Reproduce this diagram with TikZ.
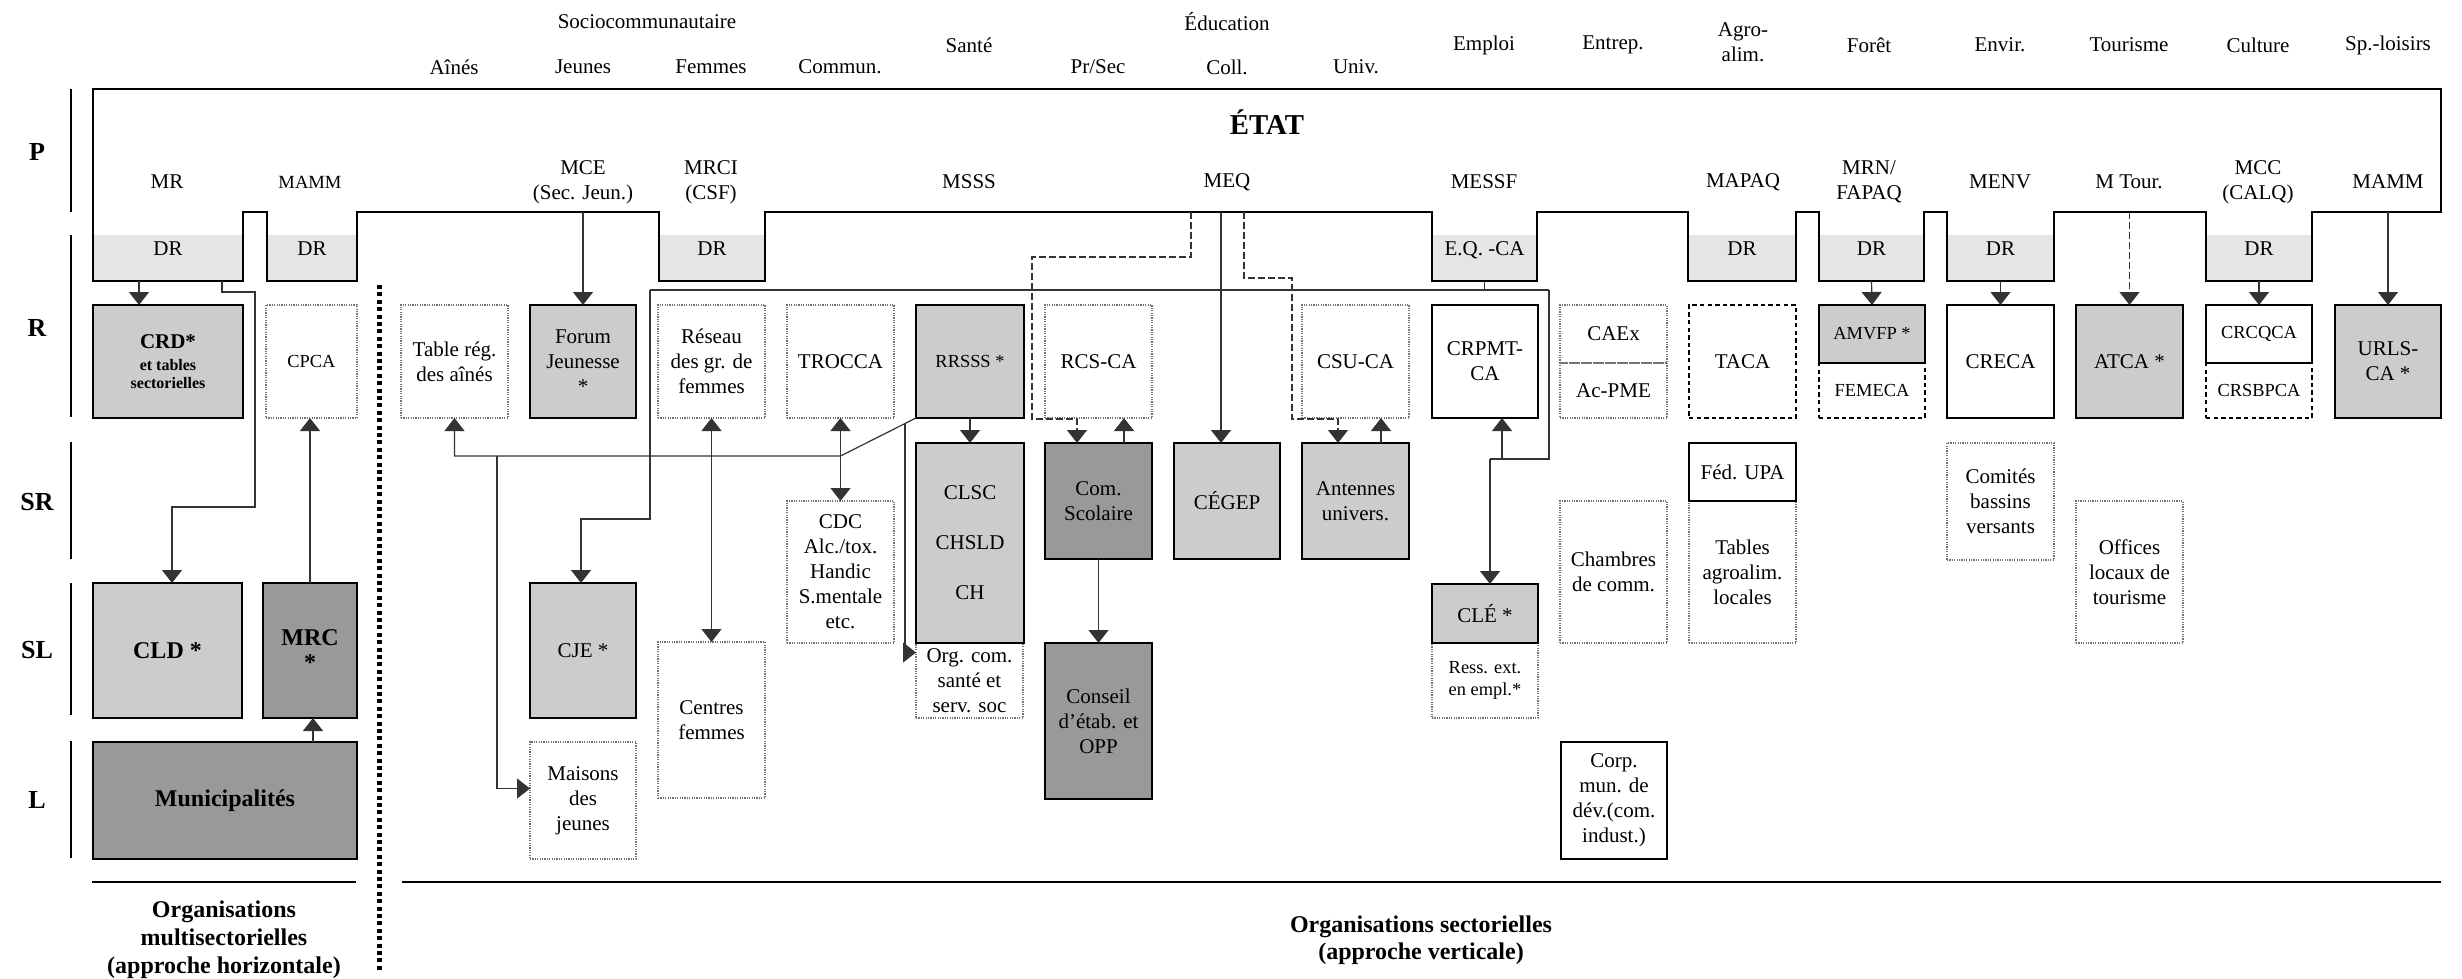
\documentclass[tikz,border=0pt]{standalone}
\usepackage{fontspec}
\setmainfont{Liberation Serif}
\usetikzlibrary{arrows.meta}

\tikzset{
  every node/.style={font=\fontsize{10.5}{12.5}\selectfont, align=center, inner sep=0pt, outer sep=0pt},
  sz/.style 2 args={minimum width=#1*0.5pt, minimum height=#2*0.5pt},
  wd/.style={minimum width=#1*0.5pt},
  solidbox/.style={draw=black, line width=1pt},
  dotbox/.style={draw=black!55, line width=0.9pt, dash pattern=on 0.6pt off 0.6pt},
  dashbox/.style={draw=black, line width=1.1pt, dash pattern=on 2.2pt off 1.6pt},
  lgrey/.style={fill=black!20},
  dgrey/.style={fill=black!40},
  drbox/.style={fill=black!10, anchor=north, minimum height=23pt, text height=7pt, text depth=10pt},
  small/.style={font=\fontsize{9.2}{11}\selectfont},
  big/.style={font=\fontsize{12}{12.5}\selectfont\bfseries},
  lvl/.style={font=\fontsize{13}{15}\selectfont\bfseries},
  conn/.style={draw=black!80, line width=0.6pt},
  arr/.style={conn, -{Triangle[width=10pt,length=6.5pt]}},
  darr/.style={conn, {Triangle[width=10pt,length=6.5pt]}-{Triangle[width=10pt,length=6.5pt]}},
  dasharr/.style={arr, dash pattern=on 3.5pt off 1.5pt}
}

\begin{document}
\begin{tikzpicture}[x=0.5pt, y=-0.5pt]
\useasboundingbox (0,0) rectangle (2462,979);

% secteurs
\node (h-socio) at (647,22) {Sociocommunautaire};
\node (h-educ) at (1227,22) {Éducation};
\node (h-aines) at (454,67) {Aînés};
\node (h-jeunes) at (583,67) {Jeunes};
\node (h-femmes) at (711,67) {Femmes};
\node (h-commun) at (840,67) {Commun.};
\node (h-sante) at (969,45) {Santé};
\node (h-prsec) at (1098,67) {Pr/Sec};
\node (h-coll) at (1227,67) {Coll.};
\node (h-univ) at (1356,67) {Univ.};
\node (h-emploi) at (1484,45) {Emploi};
\node (h-entrep) at (1613,45) {Entrep.};
\node (h-agro) at (1743,42) {Agro-\\alim.};
\node (h-foret) at (1869,45) {Forêt};
\node (h-envir) at (2000,45) {Envir.};
\node (h-tour) at (2129,45) {Tourisme};
\node (h-cult) at (2258,45) {Culture};
\node (h-sport) at (2388,45) {Sp.-loisirs};

% niveaux
\node[lvl] (lp) at (37,152) {P};
\node[lvl] (lr) at (37,328) {R};
\node[lvl] (lsr) at (37,502) {SR};
\node[lvl] (lsl) at (37,650) {SL};
\node[lvl] (ll) at (37,800) {L};
\draw[line width=1pt] (71,89) -- (71,212);
\draw[line width=1pt] (71,235) -- (71,417);
\draw[line width=1pt] (71,442) -- (71,559);
\draw[line width=1pt] (71,583) -- (71,715);
\draw[line width=1pt] (71,741) -- (71,858);

% directions regionales
\node[drbox, wd=150] (mrdr) at (168,235) {DR};
\node[drbox, wd=90] (mammdr) at (312,235) {DR};
\node[drbox, wd=106] (mrcidr) at (712,235) {DR};
\node[drbox, wd=105] (eqca) at (1484.5,235) {E.Q. -CA};
\node[drbox, wd=108] (mapaqdr) at (1742,235) {DR};
\node[drbox, wd=105] (mrndr) at (1871.5,235) {DR};
\node[drbox, wd=107] (menvdr) at (2000.5,235) {DR};
\node[drbox, wd=106] (mccdr) at (2259,235) {DR};

% l'Etat
\draw[line width=1.1pt] (93,89) -- (2441,89) -- (2441,212) -- (2312,212) -- (2312,281) -- (2206,281) -- (2206,212) -- (2054,212) -- (2054,281) -- (1947,281) -- (1947,212) -- (1924,212) -- (1924,281) -- (1819,281) -- (1819,212) -- (1796,212) -- (1796,281) -- (1688,281) -- (1688,212) -- (1537,212) -- (1537,281) -- (1432,281) -- (1432,212) -- (765,212) -- (765,281) -- (659,281) -- (659,212) -- (357,212) -- (357,281) -- (267,281) -- (267,212) -- (243,212) -- (243,281) -- (93,281) -- cycle;
\coordinate (base) at (0,212);
\node[font=\fontsize{14.4}{16}\selectfont\bfseries] (etat) at (1267,122) {ÉTAT};

% ministeres
\node (mr) at (167,182) {MR};
\node[font=\fontsize{9.3}{11}\selectfont] (mammg) at (310,182) {MAMM};
\node (mce) at (583,182) {MCE\\(Sec. Jeun.)};
\node (mrci) at (711,182) {MRCI\\(CSF)};
\node (msss) at (969,182) {MSSS};
\node (meq) at (1227,182) {MEQ};
\node (messf) at (1484,182) {MESSF};
\node (mapaq) at (1743,182) {MAPAQ};
\node (mrn) at (1869,182) {MRN/\\FAPAQ};
\node (menv) at (2000,182) {MENV};
\node (mtour) at (2129,182) {M Tour.};
\node (mcc) at (2258,182) {MCC\\(CALQ)};
\node (mammd) at (2388,182) {MAMM};

% niveau R
\node[dotbox, small, sz={91}{113}] (cpca) at (311.5,361.5) {CPCA};
\node[dotbox, sz={107}{113}] (tra) at (454.5,361.5) {Table rég.\\des aînés};
\node[dotbox, sz={107}{113}] (rgf) at (711.5,361.5) {Réseau\\des gr. de\\femmes};
\node[dotbox, sz={107}{113}] (trocca) at (840.5,361.5) {TROCCA};
\node[dotbox, sz={107}{113}] (rcs) at (1098.5,361.5) {RCS-CA};
\node[dotbox, sz={107}{113}] (csu) at (1355.5,361.5) {CSU-CA};
\node[dotbox, sz={107}{58}] (caex) at (1613.5,334) {CAEx};
\node[dotbox, sz={107}{55}] (acpme) at (1613.5,390.5) {Ac-PME};
\node[dashbox, sz={107}{113}] (taca) at (1742.5,361.5) {TACA};
\node[dashbox, small, sz={106}{55}] (femeca) at (1872,390.5) {FEMECA};
\node[dashbox, small, sz={106}{55}] (crsbpca) at (2259,390.5) {CRSBPCA};
\node[solidbox, lgrey, sz={150}{113}, font=\fontsize{8}{9}\selectfont\bfseries] (crd) at (168,361.5) {{\fontsize{10.5}{12}\selectfont CRD*}\\[2pt]et tables\\sectorielles};
\node[solidbox, lgrey, sz={106}{113}] (fj) at (583,361.5) {Forum\\Jeunesse\\*};
\node[solidbox, lgrey, small, sz={108}{113}] (rrsss) at (970,361.5) {RRSSS *};
\node[solidbox, sz={106}{113}] (crpmt) at (1485,361.5) {CRPMT-\\CA};
\node[solidbox, lgrey, small, sz={106}{58}] (amvfp) at (1872,334) {AMVFP *};
\node[solidbox, sz={107}{113}] (creca) at (2000.5,361.5) {CRECA};
\node[solidbox, lgrey, sz={107}{113}] (atca) at (2129.5,361.5) {ATCA *};
\node[solidbox, small, sz={106}{58}] (crcqca) at (2259,334) {CRCQCA};
\node[solidbox, lgrey, sz={106}{113}] (urls) at (2388,361.5) {URLS-\\CA *};

% niveaux SR, SL et L
\node[dotbox, sz={107}{142}] (cdc) at (840.5,572) {CDC\\Alc./tox.\\Handic\\S.mentale\\etc.};
\node[dotbox, sz={107}{75}] (orgcom) at (969.5,680.5) {Org. com.\\santé et\\serv. soc};
\node[dotbox, small, sz={106}{75}] (ressext) at (1485,680.5) {Ress. ext.\\en empl.*};
\node[dotbox, sz={107}{142}] (chambres) at (1613.5,572) {Chambres\\de comm.};
\node[dotbox, sz={107}{142}] (tables) at (1742.5,572) {Tables\\agroalim.\\locales};
\node[dotbox, sz={107}{117}] (comites) at (2000.5,501.5) {Comités\\bassins\\versants};
\node[dotbox, sz={107}{142}] (offices) at (2129.5,572) {Offices\\locaux de\\tourisme};
\node[dotbox, sz={107}{156}] (centres) at (711.5,720) {Centres\\femmes};
\node[dotbox, sz={106}{117}] (maisons) at (583,800.5) {Maisons\\des\\jeunes};
\node[solidbox, lgrey, sz={108}{200}] (clsc) at (970,543) {CLSC\\[12.5pt]CHSLD\\[12.5pt]CH};
\node[solidbox, dgrey, sz={107}{116}] (comsco) at (1098.5,501) {Com.\\Scolaire};
\node[solidbox, dgrey, sz={107}{156}] (conseil) at (1098.5,721) {Conseil\\d’étab. et\\OPP};
\node[solidbox, lgrey, sz={106}{116}] (cegep) at (1227,501) {CÉGEP};
\node[solidbox, lgrey, sz={107}{116}] (antennes) at (1355.5,501) {Antennes\\univers.};
\node[solidbox, lgrey, sz={106}{59}] (cle) at (1485,613.5) {CLÉ *};
\node[solidbox, sz={106}{117}] (corp) at (1614,800.5) {Corp.\\mun. de\\dév.(com.\\indust.)};
\node[solidbox, sz={107}{58}] (fedupa) at (1742.5,472) {Féd. UPA};
\node[solidbox, lgrey, sz={106}{135}] (cje) at (583,650.5) {CJE *};
\node[solidbox, lgrey, big, sz={149}{135}] (cld) at (167.5,650.5) {CLD *};
\node[solidbox, dgrey, big, sz={94}{135}] (mrc) at (310,650.5) {MRC\\*};
\node[solidbox, dgrey, big, sz={264}{117}] (muni) at (225,800.5) {Municipalités};

% liens
\draw[arr] (139,0 |- mrdr.south) -- (139,0 |- crd.north);
\draw[arr] (222,0 |- mrdr.south) |- (255,292) |- (172,507) -- (172,0 |- cld.north);
\draw[arr] (310,0 |- mrc.north) -- (310,0 |- cpca.south);
\draw[arr] (313,0 |- muni.north) -- (313,0 |- mrc.south);
\draw[arr] (fj.north |- base) -- (fj.north);
\coordinate (jl) at (650,290);
\coordinate (jr) at (1549,290);
\coordinate (jc) at (1490,459);
\draw[conn] (jl) -- (jr);
\draw[conn] (eqca.south) -- (eqca.south |- jl);
\draw[arr] (jl) |- (581,519) -- (581,0 |- cje.north);
\draw[conn] (jr) |- (jc);
\draw[arr] (jc) -- (jc |- cle.north);
\draw[arr] (1502,459) -- (1502,0 |- crpmt.south);
\draw[arr] (1221,0 |- base) -- (1221,0 |- cegep.north);
\draw[dasharr] (1191,0 |- base) |- (1032,257) |- (1077,419) -- (1077,0 |- comsco.north);
\draw[dasharr] (1244,0 |- base) |- (1292,278) |- (1338,419) -- (1338,0 |- antennes.north);
\draw[arr] (1124,0 |- comsco.north) -- (1124,0 |- rcs.south);
\draw[arr] (1381,0 |- antennes.north) -- (1381,0 |- csu.south);
\draw[arr] (rrsss.south) -- (clsc.north);
\coordinate (jt) at (840.5,456);
\draw[arr] (rrsss.south west) -- (jt) -- (tra.south |- jt) -- (tra.south);
\draw[arr] (497,456) |- ([yshift=6pt]maisons.west);
\draw[arr] (905,424) |- ([yshift=14pt]orgcom.west);
\draw[darr] (trocca.south) -- (cdc.north);
\draw[darr] (rgf.south) -- (centres.north);
\draw[arr] (comsco.south) -- (conseil.north);
\draw[arr] (mrndr.south) -- (amvfp.north);
\draw[arr] (menvdr.south) -- (creca.north);
\draw[arr] (mccdr.south) -- (crcqca.north);
\draw[dasharr] (atca.north |- base) -- (atca.north);
\draw[arr] (urls.north |- base) -- (urls.north);

% separation et bas de page
\draw[line width=2.5pt, dash pattern=on 2pt off 1.7pt] (379,285) -- (379,973);
\draw[line width=1.1pt] (92,882) -- (356,882);
\draw[line width=1.1pt] (402,882) -- (2441,882);
\node[font=\fontsize{12}{14}\selectfont\bfseries] (orgh) at (224,940) {Organisations\\multisectorielles\\(approche horizontale)};
\node[font=\fontsize{12}{13.5}\selectfont\bfseries] (orgv) at (1421,940) {Organisations sectorielles\\(approche verticale)};
\end{tikzpicture}
\end{document}
